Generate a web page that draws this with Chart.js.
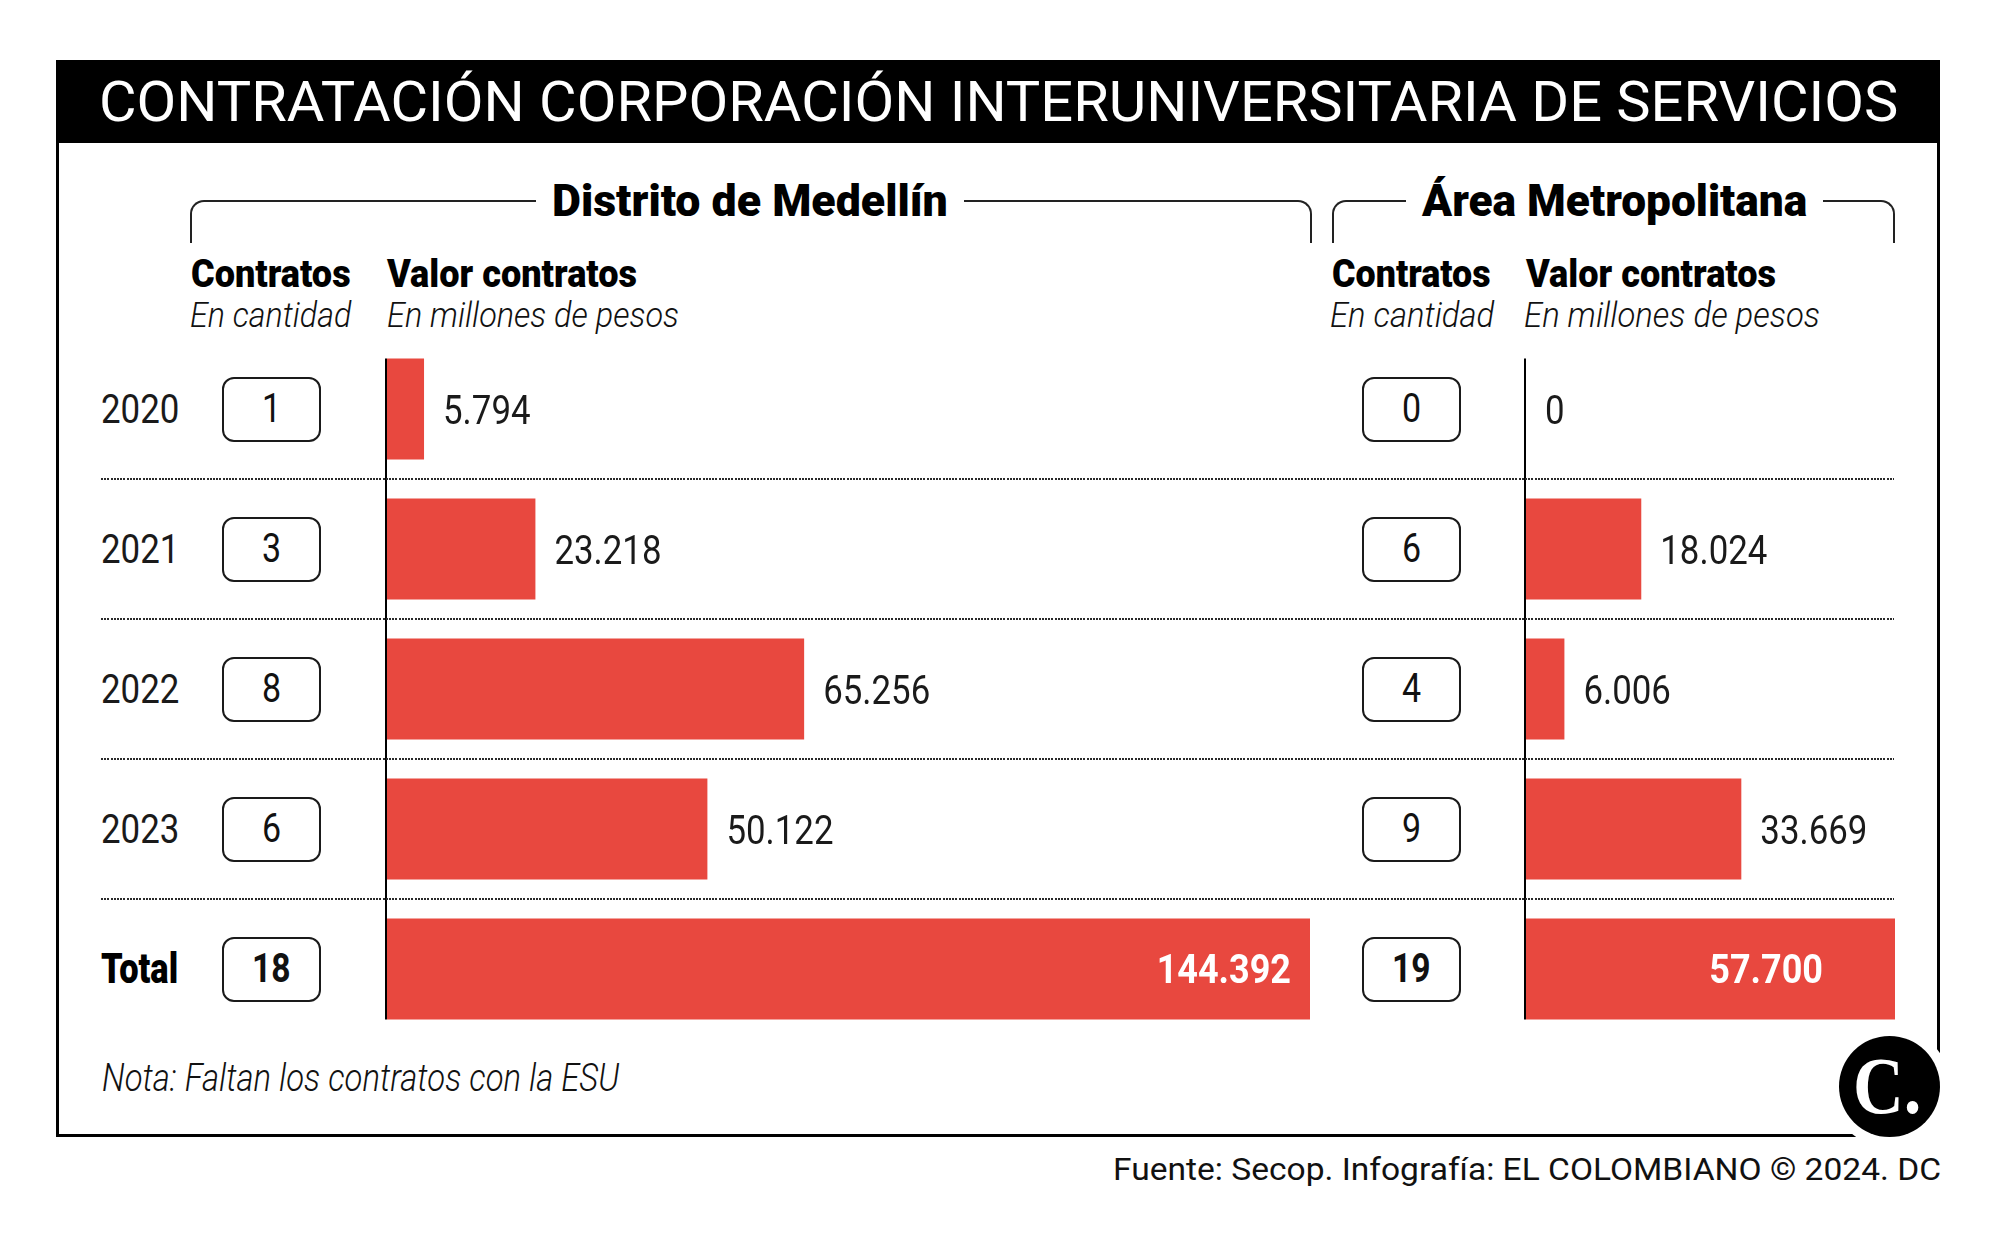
<!DOCTYPE html>
<html>
<head>
<meta charset="utf-8">
<title>Contratación Corporación Interuniversitaria de Servicios</title>
<script src="https://cdn.jsdelivr.net/npm/chart.js@4.4.1/dist/chart.umd.min.js"></script>
<style>
    html, body { margin: 0; padding: 0; background: #fff; }
    #page { position: relative; width: 2000px; height: 1240px; overflow: hidden; font-family: Roboto, "Noto Sans", sans-serif; color: #111; }
    .abs { position: absolute; white-space: nowrap; line-height: 1; }
    #band { position: absolute; left: 56px; top: 60px; width: 1884px; height: 83px; background: #000; }
    #frame { position: absolute; left: 56px; top: 60px; width: 1884px; height: 1077px; border: 3px solid #000; box-sizing: border-box; }
    #corner { position: absolute; left: 1856px; top: 1053px; width: 90px; height: 90px; background: #fff; }
    .bracket { position: absolute; top: 200px; height: 43px; border: 2px solid #222; border-bottom: none; border-radius: 14px 14px 0 0; box-sizing: border-box; }
    .mask { position: absolute; background: #fff; }
    .box { position: absolute; width: 99px; height: 65px; border: 2px solid #1a1a1a; border-radius: 12px; box-sizing: border-box; background: #fff; }
    .dots { position: absolute; height: 2px; background: repeating-linear-gradient(90deg, #2a2a2a 0 2px, transparent 2px 3.2px); }
    canvas { position: absolute; }
    #logo { position: absolute; left: 1839px; top: 1036px; width: 101px; height: 101px; border-radius: 50%; background: #000; box-shadow: 0 0 0 10px #fff; }
</style>
</head>
<body>
<div id="page">
    <div id="frame"></div>
    <div id="corner"></div>
    <div id="band"></div>
    <div class="bracket" style="left:190px;width:1122px"></div>
    <div class="bracket" style="left:1332px;width:563px"></div>
    <canvas id="medChart" width="953" height="700" style="left:377px;top:339px"></canvas>
    <canvas id="areaChart" width="399" height="700" style="left:1516px;top:339px"></canvas>
    <div id="logo"></div>
</div>

<script>
// ==================== DATA ====================

var years = ["2020", "2021", "2022", "2023", "Total"];
var medContratos = [1, 3, 8, 6, 18];
var medValor = [5794, 23218, 65256, 50122, 144392];
var areaContratos = [0, 6, 4, 9, 19];
var areaValor = [0, 18024, 6006, 33669, 57700];

var RED = "#E8483F";
var page = document.getElementById("page");

function fmt(n) {
    return String(n).replace(/\B(?=(\d{3})+(?!\d))/g, ".");
}

// place a text, condensed with scaleX, vertically centred on its caps
function addText(txt, o) {
    var el = document.createElement("div");
    el.className = "abs";
    el.textContent = txt;
    el.style.fontSize = o.size + "px";
    el.style.fontWeight = o.weight || 400;
    if (o.italic) el.style.fontStyle = "italic";
    if (o.family) el.style.fontFamily = o.family;
    el.style.color = o.color || "#111";
    page.appendChild(el);
    var w = el.offsetWidth;
    var s = o.width ? o.width / w : (o.sx || 1);
    var left = o.x;
    if (o.align === "center") left = o.x - w * s / 2;
    if (o.align === "right") left = o.x - w * s;
    el.style.left = left + "px";
    el.style.top = (o.cy - o.size / 2) + "px";
    el.style.transform = "scaleX(" + s + ")";
    el.style.transformOrigin = "0 50%";
    return { left: left, width: w * s };
}

// ==================== CHARTS ====================

var valueLabels = {
    id: "valueLabels",
    afterDatasetsDraw: function(chart, args, opts) {
        var ctx = chart.ctx;
        var meta = chart.getDatasetMeta(0);
        var area = chart.chartArea;
        var values = chart.data.datasets[0].data;
        var first = meta.data[0];
        var last = meta.data[meta.data.length - 1];

        // vertical axis line, only as tall as the bars
        ctx.save();
        ctx.strokeStyle = "#000";
        ctx.lineWidth = 2;
        ctx.beginPath();
        ctx.moveTo(area.left - 1, first.y - first.height / 2);
        ctx.lineTo(area.left - 1, last.y + last.height / 2);
        ctx.stroke();

        for (var i = 0; i < meta.data.length; i++) {
            var el = meta.data[i];
            var isTotal = i === meta.data.length - 1;
            ctx.save();
            if (isTotal) {
                ctx.font = "bold 40px Roboto, sans-serif";
                ctx.fillStyle = "#fff";
                ctx.textAlign = "right";
                ctx.translate(el.x - opts.totalPad, el.y + 14.2);
                ctx.scale(0.9, 1);
            } else {
                ctx.font = "400 41px Roboto, sans-serif";
                ctx.fillStyle = "#1a1a1a";
                ctx.textAlign = "left";
                ctx.translate(el.x + 19, el.y + 14.6);
                ctx.scale(0.85, 1);
            }
            ctx.textBaseline = "alphabetic";
            ctx.fillText(fmt(values[i]), 0, 0);
            ctx.restore();
        }
        ctx.restore();
    }
};

function makeChart(id, values, totalPad) {
    var canvas = document.getElementById(id);
    return new Chart(canvas.getContext("2d"), {
        type: "bar",
        data: {
            labels: years,
            datasets: [{
                data: values,
                backgroundColor: RED,
                borderWidth: 0,
                categoryPercentage: 1,
                barPercentage: 0.72
            }]
        },
        options: {
            indexAxis: "y",
            responsive: false,
            maintainAspectRatio: false,
            animation: false,
            layout: { padding: { left: 10, right: 20, top: 0, bottom: 0 } },
            plugins: {
                legend: { display: false },
                tooltip: { enabled: false },
                valueLabels: { totalPad: totalPad }
            },
            scales: {
                x: { display: false, min: 0, max: values[values.length - 1] },
                y: { display: false }
            }
        },
        plugins: [valueLabels]
    });
}

var medChart = makeChart("medChart", medValor, 19);
var areaChart = makeChart("areaChart", areaValor, 72);

// ==================== TEXTS ====================

addText("CONTRATACIÓN CORPORACIÓN INTERUNIVERSITARIA DE SERVICIOS", { x: 99, cy: 102, size: 56, width: 1799, color: "#fff" });

function sectionTitle(txt, cx, w) {
    var mask = document.createElement("div");
    mask.className = "mask";
    page.appendChild(mask);
    var r = addText(txt, { x: cx, cy: 200.5, size: 44, weight: 900, width: w, align: "center", color: "#000" });
    mask.style.left = (r.left - 16) + "px";
    mask.style.width = (r.width + 32) + "px";
    mask.style.top = "190px";
    mask.style.height = "20px";
}
sectionTitle("Distrito de Medellín", 750, 396);
sectionTitle("Área Metropolitana", 1614.5, 385);

addText("Contratos", { x: 191, cy: 274, size: 39, weight: 900, width: 160, color: "#000" });
addText("Valor contratos", { x: 387, cy: 274, size: 39, weight: 900, width: 250, color: "#000" });
addText("En cantidad", { x: 190, cy: 315.5, size: 35, weight: 300, italic: true, width: 161 });
addText("En millones de pesos", { x: 387, cy: 315.5, size: 35, weight: 300, italic: true, width: 292 });

addText("Contratos", { x: 1332, cy: 274, size: 39, weight: 900, width: 159, color: "#000" });
addText("Valor contratos", { x: 1526, cy: 274, size: 39, weight: 900, width: 250, color: "#000" });
addText("En cantidad", { x: 1330, cy: 315.5, size: 35, weight: 300, italic: true, width: 164 });
addText("En millones de pesos", { x: 1524, cy: 315.5, size: 35, weight: 300, italic: true, width: 296 });

// rows follow the category scale of the chart
var yScale = medChart.scales.y;
var chartTop = 339;

function countBox(cx, cy, n, bold) {
    var b = document.createElement("div");
    b.className = "box";
    b.style.left = (cx - 49.5) + "px";
    b.style.top = (cy - 32.5) + "px";
    page.appendChild(b);
    addText(String(n), { x: cx, cy: cy, size: 40, weight: bold ? 700 : 400, sx: bold ? 0.84 : 0.85, align: "center", color: "#111" });
}

for (var i = 0; i < years.length; i++) {
    var cy = chartTop + yScale.getPixelForValue(i);
    var isTotal = i === years.length - 1;
    if (isTotal) {
        addText(years[i], { x: 101, cy: cy, size: 42, weight: 900, width: 77, color: "#000" });
    } else {
        addText(years[i], { x: 101, cy: cy, size: 41, weight: 400, sx: 0.85, color: "#1a1a1a" });
    }
    countBox(271.5, cy, medContratos[i], isTotal);
    countBox(1411, cy, areaContratos[i], isTotal);

    if (i < years.length - 1) {
        var ySep = chartTop + (yScale.getPixelForValue(i) + yScale.getPixelForValue(i + 1)) / 2;
        var d = document.createElement("div");
        d.className = "dots";
        d.style.left = "101px";
        d.style.width = "1793px";
        d.style.top = (ySep - 1) + "px";
        page.appendChild(d);
    }
}

addText("Nota: Faltan los contratos con la ESU", { x: 102, cy: 1078, size: 38, weight: 300, italic: true, width: 517 });
addText("Fuente: Secop. Infografía: EL COLOMBIANO © 2024. DC", { x: 1941, cy: 1169, size: 31, width: 828, align: "right" });

addText("C.", { x: 1853, cy: 1085.5, size: 80, weight: 700, sx: 0.88, family: "'Liberation Serif', 'DejaVu Serif', serif", color: "#fff" });
</script>
</body>
</html>
